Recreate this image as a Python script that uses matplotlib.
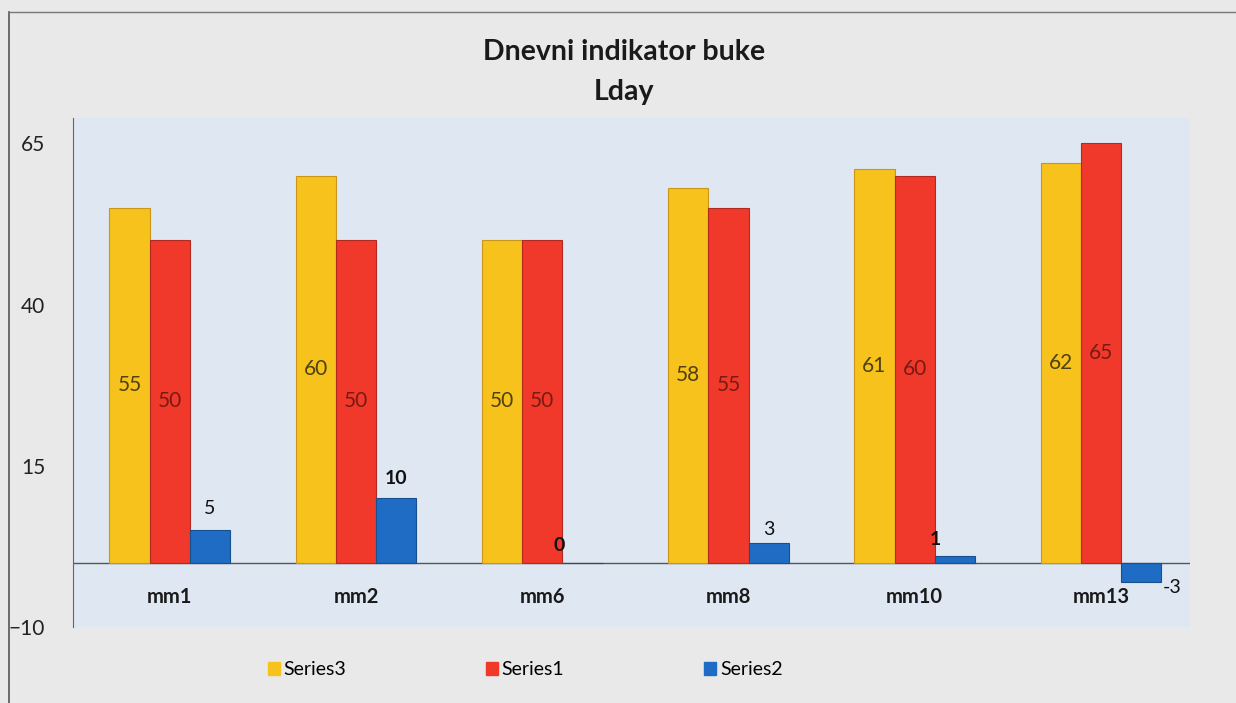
import numpy as np
import matplotlib.pyplot as plt
from matplotlib.lines import Line2D
from matplotlib.patches import Rectangle

categories = ["mm1", "mm2", "mm6", "mm8", "mm10", "mm13"]
series3 = [55, 60, 50, 58, 61, 62]
series1 = [50, 50, 50, 55, 60, 65]
series2 = [5, 10, 0, 3, 1, -3]
series2_bold = [False, True, True, False, True, False]

plt.rcParams['font.family'] = ['Lato', 'DejaVu Sans']

fig = plt.figure(figsize=(12.36, 7.03), dpi=100)
fig.patch.set_facecolor('#e9e9e9')

# outer frame (scanned chart border)
fig.add_artist(Line2D([0.007, 0.007], [0.0, 0.983], transform=fig.transFigure, color='#555555', lw=1.2))
fig.add_artist(Line2D([0.007, 1.0], [0.983, 0.983], transform=fig.transFigure, color='#777777', lw=1.0))

ax = fig.add_axes([0.059, 0.108, 0.904, 0.724])
ax.set_facecolor('#dfe8f2')

x = np.arange(len(categories))
w = 0.216
c3, c1, c2 = '#f7c21c', '#f0392a', '#1f6cc4'

b3 = ax.bar(x - w, series3, w, color=c3, edgecolor='#c9961a', lw=0.8, zorder=3)
b1 = ax.bar(x, series1, w, color=c1, edgecolor='#b02a20', lw=0.8, zorder=3)
b2 = ax.bar(x + w, series2, w, color=c2, edgecolor='#17508f', lw=0.8, zorder=3)

for i in range(len(categories)):
    ax.text(x[i] - w, series3[i] / 2, str(series3[i]), ha='center', va='center',
            fontsize=15, color='#4d4210', zorder=4)
    ax.text(x[i], series1[i] / 2, str(series1[i]), ha='center', va='center',
            fontsize=15, color='#7a1a14', zorder=4)

# Series2 labels sit above the bars (below for negatives)
offsets = [(0, 16), (0, 14), (-17, 12), (0, 10), (-14, 12), (22, -18)]
for i, v in enumerate(series2):
    ax.annotate(str(v), (x[i] + w, max(v, 0)), xytext=offsets[i], textcoords='offset points',
                ha='center', va='center', fontsize=14,
                fontweight='bold' if series2_bold[i] else 'normal', color='#111111', zorder=4)

# category labels inside plot, below zero line
for i, c in enumerate(categories):
    ax.text(x[i], -5.4, c, ha='center', va='center', fontsize=14.5, fontweight='bold', color='#1a1a1a')

ax.axhline(0, color='#555555', lw=1.0, zorder=2)
ax.set_xlim(-0.52, 5.48)
ax.set_ylim(-10, 68.9)
ax.set_yticks([-10, 15, 40, 65])
ax.set_xticks([])
ax.tick_params(axis='y', length=0, labelsize=15, pad=20, colors='#222222')
for s in ['top', 'right', 'bottom']:
    ax.spines[s].set_visible(False)
ax.spines['left'].set_color('#666666')

fig.text(0.505, 1 - 52 / 703, "Dnevni indikator buke", ha='center', va='center',
         fontsize=20.5, fontweight='bold', color='#1a1a1a')
fig.text(0.505, 1 - 92 / 703, "Lday", ha='center', va='center',
         fontsize=20.5, fontweight='bold', color='#1a1a1a')

handles = [Rectangle((0, 0), 1, 1, color=c) for c in (c3, c1, c2)]
fig.legend(handles, ["Series3", "Series1", "Series2"], loc='center', bbox_to_anchor=(0.425, 0.047),
           ncol=3, frameon=False, fontsize=14, handlelength=0.6, handleheight=0.6,
           handletextpad=0.2, columnspacing=7.2)

fig.savefig("out.png", dpi=100, facecolor=fig.get_facecolor())
